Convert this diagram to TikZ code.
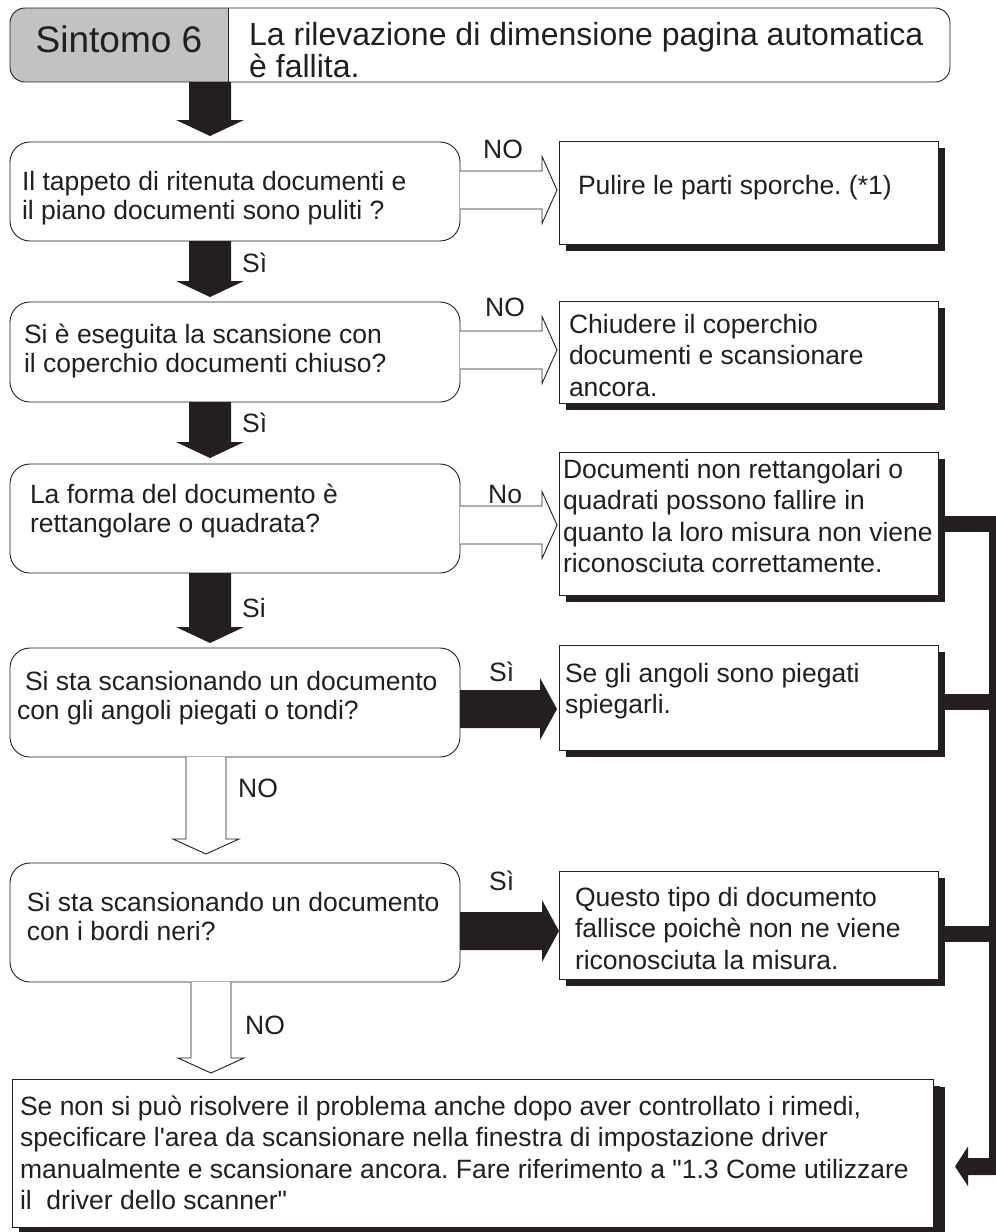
\documentclass[tikz,border=0pt]{standalone}
\usepackage{fontspec}
\setmainfont{Liberation Sans}
\setmonofont{Liberation Sans}
\usetikzlibrary{calc,shadows}
\definecolor{ink}{RGB}{35,31,32}
\definecolor{hdrgray}{RGB}{194,194,194}
\newcommand{\blkdown}[2]{\fill[ink] ($(#1)+(-21,0)$) -- ($(#2)+(-21,-16)$) -- ($(#2)+(-34,-16)$) -- (#2) -- ($(#2)+(34,-16)$) -- ($(#2)+(21,-16)$) -- ($(#1)+(21,0)$) -- cycle;}
\newcommand{\holdown}[2]{\draw[hollow] ($(#1)+(-20,0)$) -- ($(#2)+(-20,-15)$) -- ($(#2)+(-33,-15)$) -- (#2) -- ($(#2)+(33,-15)$) -- ($(#2)+(20,-15)$) -- ($(#1)+(20,0)$);}
\newcommand{\blkright}[2]{\fill[ink] ($(#1)+(0,-19)$) -- ($(#2)+(-17,-19)$) -- ($(#2)+(-17,-31)$) -- (#2) -- ($(#2)+(-17,31)$) -- ($(#2)+(-17,19)$) -- ($(#1)+(0,19)$) -- cycle;}
\newcommand{\holright}[2]{\draw[hollow] ($(#1)+(0,-19)$) -- ($(#2)+(-15,-19)$) -- ($(#2)+(-15,-33.5)$) -- (#2) -- ($(#2)+(-15,33.5)$) -- ($(#2)+(-15,19)$) -- ($(#1)+(0,19)$);}
\begin{document}
\begin{tikzpicture}[x=1pt,y=-1pt,
  txt/.style={font=\ttfamily\fontsize{26.5}{31.5}\selectfont, text=ink, inner sep=0pt, outer sep=0pt, align=left, anchor=north west},
  qtxt/.style={txt, font=\ttfamily\fontsize{26.5}{29.5}\selectfont},
  lbl/.style={font=\ttfamily\fontsize{26.5}{31.5}\selectfont, text=ink, inner sep=0pt, anchor=base west},
  qbox/.style={draw=ink, line width=0.9pt, rounded corners=20pt, minimum width=450pt, inner sep=0pt, outer sep=0pt},
  abox/.style={draw=ink, line width=0.9pt, fill=white, inner sep=0pt, outer sep=0pt, minimum width=379pt, drop shadow={shadow xshift=7pt, shadow yshift=-7pt, fill=ink, opacity=1}},
  hollow/.style={draw=ink, line width=0.9pt, fill=white},
]
\path[use as bounding box] (0,0) rectangle (996,1232);

% header
\begin{scope}
\clip[rounded corners=15pt] (10,8) rectangle (950,82);
\fill[hdrgray] (10,8) rectangle (228,82);
\end{scope}
\node[draw=ink, line width=0.9pt, rounded corners=15pt, minimum width=940pt, minimum height=74pt, inner sep=0pt, outer sep=0pt] (hdr) at (480,45) {};
\coordinate (div) at (228,45);
\draw[ink, line width=0.9pt] (div |- hdr.north) -- (div |- hdr.south);
\node[font=\ttfamily\fontsize{37}{40}\selectfont, text=ink, inner sep=0pt, anchor=base] (sint) at (119,52) {Sintomo 6};
\node[font=\ttfamily\fontsize{32}{32.5}\selectfont, text=ink, inner sep=0pt, align=left, anchor=north west] (ttl) at (249,18) {\rule{0pt}{27pt}La rilevazione di dimensione pagina automatica\\è fallita.};

% question boxes
\node[qbox, minimum height=99pt] (q1) at (235,191.5) {};
\node[qbox, minimum height=100pt] (q2) at (235,352) {};
\node[qbox, minimum height=109pt] (q3) at (235,518.5) {};
\node[qbox, minimum height=109pt] (q4) at (235,702.5) {};
\node[qbox, minimum height=119pt] (q5) at (235,922.5) {};

% answer boxes
\node[abox, minimum height=103pt] (r1) at (748.5,192.5) {};
\node[abox, minimum height=102pt] (r2) at (748.5,352) {};
\node[abox, minimum height=143pt] (r3) at (748.5,523.5) {};
\node[abox, minimum height=105pt] (r4) at (748.5,697.5) {};
\node[abox, minimum height=108pt] (r5) at (748.5,925) {};
\node[abox, minimum width=921pt, minimum height=148pt, drop shadow={shadow xshift=12pt, shadow yshift=-8pt, fill=ink, opacity=1}] (fin) at (472.5,1153) {};

% texts
\node[qtxt] (t1) at (22,166) {\rule{0pt}{24pt}Il tappeto di ritenuta documenti e\\il piano documenti sono puliti ?};
\node[qtxt] (t2) at (24,319) {\rule{0pt}{24pt}Si è eseguita la scansione con\\il coperchio documenti chiuso?};
\node[qtxt] (t3) at (30,479) {\rule{0pt}{24pt}La forma del documento è\\rettangolare o quadrata?};
\node[qtxt] (t4) at (17,666) {\rule{0pt}{24pt}\hspace{8pt}Si sta scansionando un documento\\con gli angoli piegati o tondi?};
\node[qtxt] (t5) at (27,887) {\rule{0pt}{24pt}Si sta scansionando un documento\\con i bordi neri?};
\node[txt] (u1) at (578,170) {\rule{0pt}{24pt}Pulire le parti sporche. (*1)};
\node[txt] (u2) at (569,309) {\rule{0pt}{24pt}Chiudere il coperchio\\documenti e scansionare\\ancora.};
\node[txt] (u3) at (563,454) {\rule{0pt}{24pt}Documenti non rettangolari o\\quadrati possono fallire in\\quanto la loro misura non viene\\riconosciuta correttamente.};
\node[txt] (u4) at (565,658) {\rule{0pt}{24pt}Se gli angoli sono piegati\\spiegarli.};
\node[txt] (u5) at (575,882) {\rule{0pt}{24pt}Questo tipo di documento\\fallisce poichè non ne viene\\riconosciuta la misura.};
\node[txt] (tf) at (20,1091) {\rule{0pt}{24pt}Se non si può risolvere il problema anche dopo aver controllato i rimedi,\\specificare l'area da scansionare nella finestra di impostazione driver\\manualmente e scansionare ancora. Fare riferimento a "1.3 Come utilizzare\\il\ \ driver dello scanner"};

% vertical black arrows
\coordinate (ax) at (210,0);
\coordinate (d1s) at (hdr.south -| ax); \coordinate (d1e) at ($(q1.north -| ax)+(0,-6)$);
\coordinate (d2s) at (q1.south -| ax);  \coordinate (d2e) at ($(q2.north -| ax)+(0,-5)$);
\coordinate (d3s) at (q2.south -| ax);  \coordinate (d3e) at ($(q3.north -| ax)+(0,-6)$);
\coordinate (d4s) at (q3.south -| ax);  \coordinate (d4e) at ($(q4.north -| ax)+(0,-5)$);
\blkdown{d1s}{d1e}
\blkdown{d2s}{d2e}
\blkdown{d3s}{d3e}
\blkdown{d4s}{d4e}

% hollow down arrows
\coordinate (hx4) at (206,0); \coordinate (hx5) at (211,0);
\coordinate (n4s) at (q4.south -| hx4); \coordinate (n4e) at ($(q5.north -| hx4)+(0,-9)$);
\coordinate (n5s) at (q5.south -| hx5); \coordinate (n5e) at ($(fin.north -| hx5)+(0,-6)$);
\holdown{n4s}{n4e}
\holdown{n5s}{n5e}

% horizontal arrows
\coordinate (y1) at (0,190); \coordinate (y2) at (0,350); \coordinate (y3) at (0,525);
\coordinate (y4) at (0,709); \coordinate (y5) at (0,931);
\coordinate (h1s) at (q1.east |- y1); \coordinate (h1e) at ($(r1.west |- y1)+(-2,0)$);
\coordinate (h2s) at (q2.east |- y2); \coordinate (h2e) at ($(r2.west |- y2)+(-2,0)$);
\coordinate (h3s) at (q3.east |- y3); \coordinate (h3e) at ($(r3.west |- y3)+(-2,0)$);
\coordinate (h4s) at (q4.east |- y4); \coordinate (h4e) at ($(r4.west |- y4)+(-2,0)$);
\coordinate (h5s) at (q5.east |- y5); \coordinate (h5e) at ($(r5.west |- y5)+(0,0)$);
\holright{h1s}{h1e}
\holright{h2s}{h2e}
\holright{h3s}{h3e}
\blkright{h4s}{h4e}
\blkright{h5s}{h5e}

% right bracket
\coordinate (vr) at (995.5,0);
\coordinate (yb3) at (0,524); \coordinate (yb4) at (0,702); \coordinate (yb5) at (0,934); \coordinate (yb6) at (0,1166.5);
\draw[ink, line width=16pt] (r3.east |- yb3) -- (vr |- yb3);
\draw[ink, line width=16pt] (r4.east |- yb4) -- (vr |- yb4);
\draw[ink, line width=16pt] (r5.east |- yb5) -- (vr |- yb5);
\coordinate (vtop) at (992,516); \coordinate (vbot) at (992,1175);
\draw[ink, line width=7pt] (vtop) -- (vbot);
\coordinate (ftip) at ($(fin.east |- yb6)+(22,0)$);
\fill[ink] ($(vr |- yb6)+(0,-8.5)$) -- ($(ftip)+(13,-8.5)$) -- ($(ftip)+(13,-20)$) -- (ftip) -- ($(ftip)+(13,19.5)$) -- ($(ftip)+(13,8.5)$) -- ($(vr |- yb6)+(0,8.5)$) -- cycle;

% labels
\node[lbl] (lno1) at (483,158) {NO};
\node[lbl] (lno2) at (485,316) {NO};
\node[lbl] (lno3) at (488,503) {No};
\node[lbl] (lsi4) at (489,681) {Sì};
\node[lbl] (lsi5) at (489,890) {Sì};
\node[lbl] (ls1) at (242,272) {Sì};
\node[lbl] (ls2) at (242,432) {Sì};
\node[lbl] (ls3) at (242,617) {Si};
\node[lbl] (ln4) at (238,797) {NO};
\node[lbl] (ln5) at (245,1034) {NO};
\end{tikzpicture}
\end{document}
